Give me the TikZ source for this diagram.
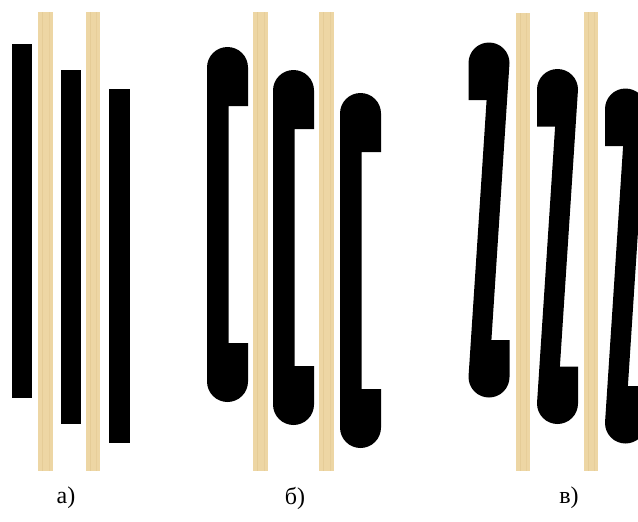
\documentclass[tikz,border=0pt]{standalone}
\usepackage{fontspec}
\setmainfont{Liberation Serif}
\definecolor{wood}{RGB}{237,214,164}
\definecolor{woodd}{RGB}{222,196,140}
\tikzset{
  woodbar/.style={fill=wood},
  metal/.style={fill=black},
  lbl/.style={font=\fontsize{24}{28}\selectfont, inner sep=0pt}
}
\begin{document}
\begin{tikzpicture}[x=1pt,y=1pt]
\useasboundingbox (0,0) rectangle (638,-522);
\clip (0,0) rectangle (638,-522);
% wood strips
\foreach \xa/\xb/\ya in {38/53/12, 86/100/12, 253/268/12, 319/334/12, 516/530/13, 584/598/12}{
  \fill[woodbar] (\xa,-\ya) rectangle (\xb,-471);
  \draw[woodd, line width=0.6pt, opacity=0.5] ({\xa+4},-\ya) -- ({\xa+4},-471);
  \draw[woodd, line width=0.4pt, opacity=0.4] ({\xb-4},-\ya) -- ({\xb-4},-471);
}
% panel a: straight bars
\foreach \xa/\xb/\ya/\yb in {12/32/44/398, 61/81/70/424, 109/130/89/443}{
  \fill[metal] (\xa,-\ya) rectangle (\xb,-\yb);
}
% panel b: staples with legs on the left
\foreach \L/\T in {207/47, 273/70, 340/93}{
  \fill[metal] (\L,{-(\T+20.5)}) arc[start angle=180, end angle=0, radius=20.5pt]
    -- ({\L+41},{-(\T+59)}) -- ({\L+21.5},{-(\T+59)})
    -- ({\L+21.5},{-(\T+355-59)}) -- ({\L+41},{-(\T+355-59)})
    -- ({\L+41},{-(\T+355-20.5)}) arc[start angle=0, end angle=-180, radius=20.5pt]
    -- cycle;
}
% panel c: staples with slanted legs
\foreach \cx/\T in {489/42.5, 557.5/69, 625.5/88.5}{
  \pgfmathsetmacro{\Tc}{\T+20.5}
  \pgfmathsetmacro{\Bc}{\T+355-20.5}
  \fill[metal] ({\cx-20.5},-\Tc) arc[start angle=180, end angle=0, radius=20.5pt]
    -- ({\cx+2.4},{-(\Bc-37)}) -- ({\cx+20.5},{-(\Bc-37)})
    -- ({\cx+20.5},-\Bc) arc[start angle=0, end angle=-180, radius=20.5pt]
    -- ({\cx-2.4},{-(\Tc+37)}) -- ({\cx-20.5},{-(\Tc+37)})
    -- cycle;
}
% labels
\node[lbl] (la) at (66,-498) {а)};
\node[lbl] (lb) at (295,-498) {б)};
\node[lbl] (lc) at (569,-498) {в)};
\end{tikzpicture}
\end{document}
